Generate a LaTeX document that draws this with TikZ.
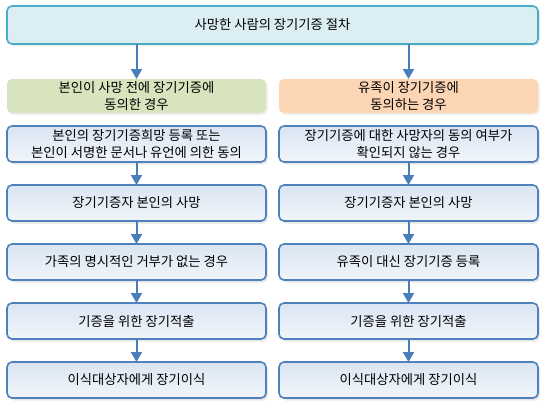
\documentclass[tikz,border=0pt]{standalone}
\usepackage{fontspec}
\setmainfont{Noto Sans CJK KR}
\usetikzlibrary{positioning, shadows, arrows.meta}

\definecolor{stepline}{HTML}{4F81BD}
\definecolor{steptop}{HTML}{DAE5F2}
\definecolor{stepbot}{HTML}{F1F5FB}
\definecolor{titleline}{HTML}{4BACC6}
\definecolor{titlefill}{HTML}{DAEEF3}
\definecolor{consentfill}{HTML}{D7E4BD}
\definecolor{familyfill}{HTML}{FCD5B4}
\definecolor{flowarrow}{HTML}{4A7EBB}

\tikzstyle{stepbox} = [rectangle, rounded corners=5pt, minimum width=259pt, minimum height=36pt, text centered, align=center, draw=stepline, line width=1.6pt, top color=steptop, bottom color=stepbot, drop shadow={opacity=0.18, shadow xshift=2pt, shadow yshift=-2.5pt}]
\tikzstyle{casebox} = [rectangle, rounded corners=5pt, minimum width=259pt, minimum height=34pt, text centered, align=center, drop shadow={opacity=0.12, shadow xshift=2pt, shadow yshift=-2pt}]
\tikzstyle{titlebox} = [rectangle, rounded corners=5pt, minimum width=531pt, minimum height=38pt, text centered, draw=titleline, line width=1.6pt, fill=titlefill, drop shadow={opacity=0.15, shadow xshift=2pt, shadow yshift=-2pt}]
\tikzstyle{flow} = [-{Triangle[width=11pt, length=10pt]}, draw=flowarrow, line width=2pt]

\begin{document}
\begin{tikzpicture}[node distance=23pt and 13pt, font=\fontsize{13.3pt}{16.8pt}\selectfont, outer sep=0pt, inner ysep=2pt]
    \useasboundingbox (0,0) rectangle (554pt,-413pt);

    \node[titlebox] (title) at (272.5pt,-25pt) {사망한 사람의 장기기증 절차};

    \node[casebox, fill=consentfill] (self) at (136.5pt,-96pt) {본인이 사망 전에 장기기증에\\동의한 경우};
    \node[casebox, fill=familyfill, right=of self] (family) {유족이 장기기증에\\동의하는 경우};

    % left column
    \node[stepbox, below=13pt of self] (selfreg) {본인의 장기기증희망 등록 또는\\본인이 서명한 문서나 유언에 의한 동의};
    \node[stepbox, below=of selfreg] (selfdeath) {장기기증자 본인의 사망};
    \node[stepbox, below=of selfdeath] (norefuse) {가족의 명시적인 거부가 없는 경우};
    \node[stepbox, below=of norefuse] (selfext) {기증을 위한 장기적출};
    \node[stepbox, below=of selfext] (selftx) {이식대상자에게 장기이식};

    % right column
    \node[stepbox, below=13pt of family] (unknown) {장기기증에 대한 사망자의 동의 여부가\\확인되지 않는 경우};
    \node[stepbox, below=of unknown] (famdeath) {장기기증자 본인의 사망};
    \node[stepbox, below=of famdeath] (famreg) {유족이 대신 장기기증 등록};
    \node[stepbox, below=of famreg] (famext) {기증을 위한 장기적출};
    \node[stepbox, below=of famext] (famtx) {이식대상자에게 장기이식};

    \draw[flow] (title.south -| self.north) -- (self.north);
    \draw[flow] (title.south -| family.north) -- (family.north);

    \draw[flow] (selfreg) -- (selfdeath);
    \draw[flow] (selfdeath) -- (norefuse);
    \draw[flow] (norefuse) -- (selfext);
    \draw[flow] (selfext) -- (selftx);

    \draw[flow] (unknown) -- (famdeath);
    \draw[flow] (famdeath) -- (famreg);
    \draw[flow] (famreg) -- (famext);
    \draw[flow] (famext) -- (famtx);

\end{tikzpicture}
\end{document}
